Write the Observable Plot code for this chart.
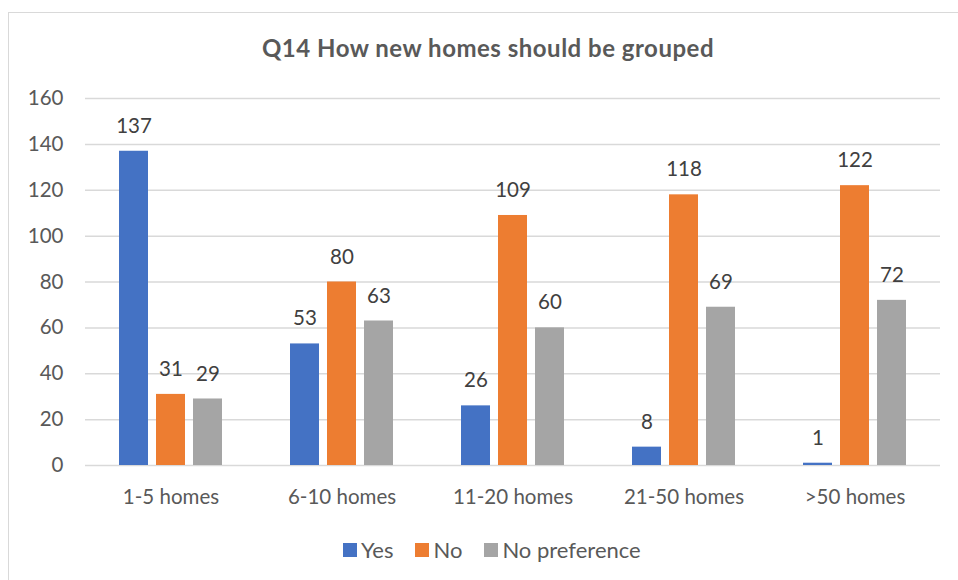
<!DOCTYPE html>
<html>
<head>
<meta charset="utf-8">
<script src="https://cdn.jsdelivr.net/npm/d3@7"></script>
<script src="https://cdn.jsdelivr.net/npm/@observablehq/plot@0.6"></script>
<style>
  html, body { margin: 0; padding: 0; background: #fff; }
  #wrap { position: relative; width: 958px; height: 580px; overflow: hidden; font-family: Lato, "Open Sans", sans-serif; }
  #border { position: absolute; left: 8px; top: 12px; width: 1000px; height: 1000px; border: 1.5px solid #d9d9d9; box-sizing: border-box; }
  #title { position: absolute; left: 0; width: 976px; top: 33px; text-align: center; font-size: 24px; letter-spacing: 0.5px; font-weight: bold; color: #595959; }
  #legend { position: absolute; left: 343px; top: 536px; display: flex; align-items: center; font-size: 22px; color: #595959; }
  .sw { display: inline-block; width: 14px; height: 14px; margin-right: 4px; }
  .item { display: flex; align-items: center; margin-right: 22px; }
  #chart { position: absolute; left: 0; top: 0; }
</style>
</head>
<body>
<div id="wrap">
  <div id="border"></div>
  <div id="chart"></div>
  <div id="title">Q14 How new homes should be grouped</div>
  <div id="legend"></div>
</div>
<script>
const categories = ["1-5 homes", "6-10 homes", "11-20 homes", "21-50 homes", ">50 homes"];
const series = ["Yes", "No", "No preference"];
const yes = [137, 53, 26, 8, 1];
const no = [31, 80, 109, 118, 122];
const noPref = [29, 63, 60, 69, 72];
const colors = ["#4472C4", "#ED7D31", "#A5A5A5"];
const yTicks = [0, 20, 40, 60, 80, 100, 120, 140, 160];
const title = "Q14 How new homes should be grouped";

const seriesValues = [yes, no, noPref];
const data = categories.flatMap((c, i) => series.map((s, j) => ({cat: c, s, v: seriesValues[j][i]})));

const chart = Plot.plot({
  width: 958,
  height: 580,
  marginTop: 98,
  marginBottom: 115,
  marginLeft: 84,
  marginRight: 18,
  style: {fontFamily: "Lato, 'Open Sans', sans-serif", background: "transparent"},
  fx: {domain: categories, padding: 0, label: null},
  x: {domain: series, paddingInner: 0.21, paddingOuter: 0.89, axis: null},
  y: {domain: [0, 160], label: null},
  color: {domain: series, range: colors},
  marks: [
    Plot.gridY(yTicks, {stroke: "#d9d9d9", strokeOpacity: 1, strokeWidth: 1.5}),
    Plot.axisY(yTicks, {tickSize: 0, tickPadding: 22, fontSize: 20.5, color: "#595959", label: null}),
    Plot.axisFx({anchor: "bottom", tickSize: 0, tickPadding: 24, fontSize: 20.5, color: "#595959", label: null}),
    Plot.barY(data, {fx: "cat", x: "s", y: "v", fill: "s"}),
    Plot.text(data, {fx: "cat", x: "s", y: "v", text: "v", dy: -25, fontSize: 20.5, fill: "#404040", lineAnchor: "middle"})
  ]
});
document.getElementById("chart").appendChild(chart);

const legend = document.getElementById("legend");
series.forEach((s, i) => {
  const item = document.createElement("div");
  item.className = "item";
  const sw = document.createElement("span");
  sw.className = "sw";
  sw.style.background = colors[i];
  item.appendChild(sw);
  item.appendChild(document.createTextNode(s));
  legend.appendChild(item);
});
document.getElementById("title").textContent = title;
</script>
</body>
</html>
